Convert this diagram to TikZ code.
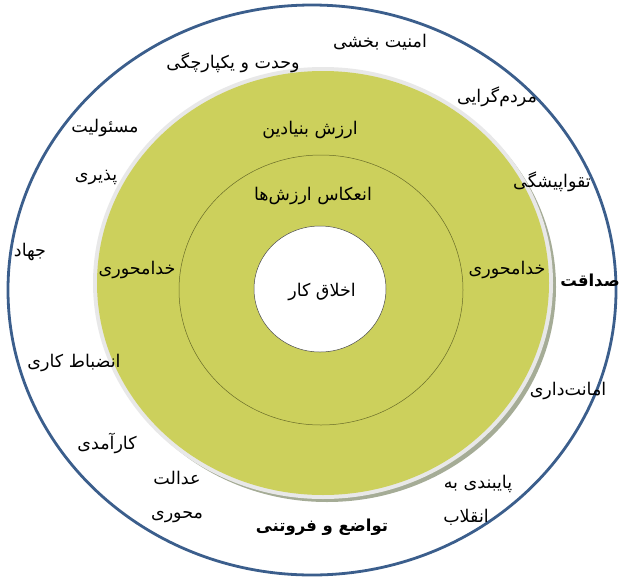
\documentclass[tikz,border=0pt]{standalone}
\usepackage{fontspec}
\newfontfamily\persfont[Script=Arabic]{DejaVu Sans}
\TeXXeTstate=1
\newcommand{\fa}[1]{\persfont\beginR #1\endR}
\definecolor{ringblue}{RGB}{59,94,140}
\definecolor{valuegreen}{RGB}{204,208,92}
\definecolor{shadowgray}{RGB}{165,172,150}
\definecolor{rimgray}{RGB}{232,232,232}
\definecolor{linegreen}{RGB}{105,108,40}

\begin{document}
\begin{tikzpicture}[x=1pt,y=-1pt,
  word/.style={font=\fontsize{17.5}{20}\selectfont, inner sep=1pt},
  bigword/.style={font=\fontsize{16.5}{19}\selectfont\bfseries, inner sep=1pt}]
\useasboundingbox (0,0) rectangle (621,576);
\fill[white] (0,0) rectangle (621,576);

% rings
\draw [ringblue, line width=2.8pt] (312,290) ellipse [x radius=304, y radius=285];
\fill [shadowgray] (327,287) ellipse [x radius=229, y radius=215];
\fill [rimgray] (323,283) ellipse [x radius=230, y radius=216];
\fill [valuegreen] (323,283) ellipse [x radius=226, y radius=212];
\draw [linegreen, line width=0.5pt] (321,290) ellipse [x radius=142, y radius=135];
\draw [black!70, line width=0.5pt, fill=white] (320,289) ellipse [x radius=66, y radius=63];

% center and inner labels
\node [word] (core) at (322,292) {\fa{اخلاق کار}};
\node [word] (reflect) at (313,196) {\fa{انعکاس ارزش^^^^200cها}};
\node [word] (base) at (310,130) {\fa{ارزش بنیادین}};
\node [word] (godL) at (137,270) {\fa{خدامحوری}};
\node [word] (godR) at (507,270) {\fa{خدامحوری}};

% outer values
\node [word] (security) at (380,42) {\fa{امنیت بخشی}};
\node [word] (unity) at (233,63) {\fa{وحدت و یکپارچگی}};
\node [word] (people) at (497,97) {\fa{مردم^^^^200cگرایی}};
\node [word] (duty1) at (105,128) {\fa{مسئولیت}};
\node [word] (duty2) at (96,178) {\fa{پذیری}};
\node [word] (piety) at (552,182) {\fa{تقواپیشگی}};
\node [word] (jihad) at (30,252) {\fa{جهاد}};
\node [bigword] (honesty) at (590,280) {\fa{صداقت}};
\node [word] (discipline) at (74,363) {\fa{انضباط کاری}};
\node [word] (trust) at (568,391) {\fa{امانت^^^^200cداری}};
\node [word] (efficiency) at (107,443) {\fa{کارآمدی}};
\node [word] (justice1) at (177,478) {\fa{عدالت}};
\node [word] (justice2) at (177,517) {\fa{محوری}};
\node [word] (loyal1) at (478,484) {\fa{پایبندی به}};
\node [word] (loyal2) at (466,517) {\fa{انقلاب}};
\node [bigword] (humility) at (322,527) {\fa{تواضع و فروتنی}};
\end{tikzpicture}
\end{document}
